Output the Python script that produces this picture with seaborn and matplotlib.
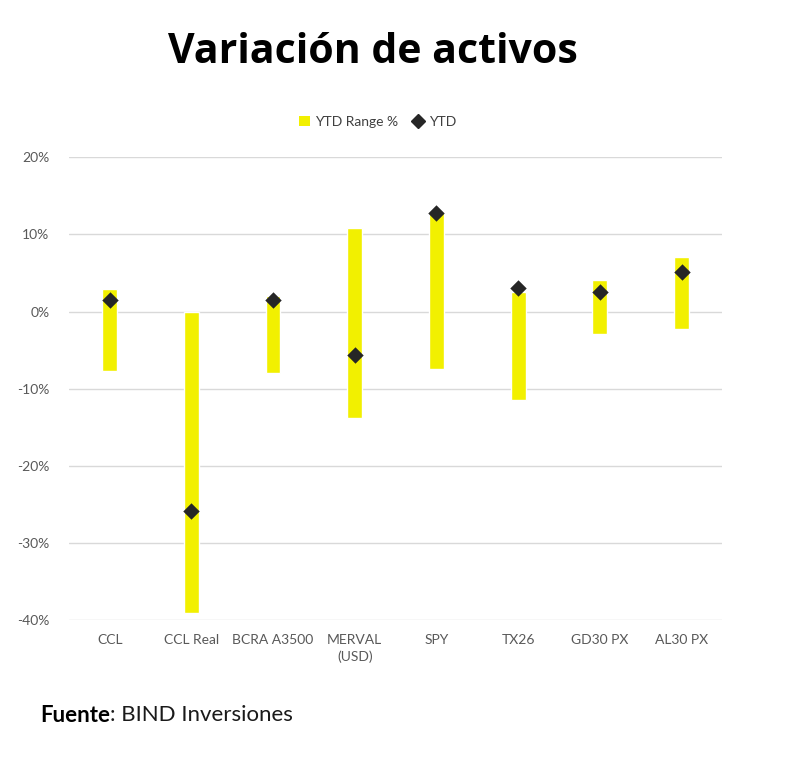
import matplotlib
matplotlib.use('Agg')
import matplotlib.pyplot as plt
import matplotlib.ticker as mticker
from matplotlib.patches import Patch
from matplotlib.lines import Line2D
import seaborn as sns
import pandas as pd

# Data (percent)
activos = ['CCL', 'CCL Real', 'BCRA A3500', 'MERVAL\n(USD)', 'SPY', 'TX26', 'GD30 PX', 'AL30 PX']
rango_min = [-7.7, -39.1, -7.9, -13.8, -7.5, -11.5, -2.9, -2.2]
rango_max = [2.9, -0.1, 2.0, 10.9, 12.9, 2.5, 4.1, 7.1]
ytd = [1.5, -25.9, 1.5, -5.6, 12.8, 3.0, 2.5, 5.1]

df = pd.DataFrame({'activo': activos, 'min': rango_min, 'max': rango_max, 'ytd': ytd})
df['rango'] = df['max'] - df['min']

sns.set_style('white')
plt.rcParams['font.family'] = ['Lato', 'DejaVu Sans']

amarillo = '#F2F000'
negro = '#262626'

fig = plt.figure(figsize=(8, 7.6), dpi=100)
ax = fig.add_axes([0.086, 0.184, 0.817, 0.609])

# Floating bars: height = range, starting at the minimum
sns.barplot(data=df, x='activo', y='rango', bottom=df['min'].values, color=amarillo,
            width=0.18, saturation=1, ax=ax, zorder=2)
sns.scatterplot(data=df, x='activo', y='ytd', marker='D', color=negro, s=70,
                edgecolor=negro, linewidth=0, ax=ax, zorder=3)

ax.set_ylim(-40, 20)
ax.set_xlim(-0.5, len(activos) - 0.5)
ax.yaxis.set_major_locator(mticker.MultipleLocator(10))
ax.yaxis.set_major_formatter(mticker.FuncFormatter(lambda v, p: f'{v:.0f}%'))
ax.grid(axis='y', color='#d9d9d9', linewidth=1, zorder=0)
ax.set_axisbelow(True)
for s in ax.spines.values():
    s.set_visible(False)
ax.set_xlabel('')
ax.set_ylabel('')
ax.tick_params(axis='both', length=0, labelsize=10, colors='#595959')
ax.tick_params(axis='y', pad=14)
ax.tick_params(axis='x', pad=10)
for lbl in ax.get_xticklabels():
    lbl.set_linespacing(1.4)

handles = [Patch(facecolor=amarillo, edgecolor='none', label='YTD Range %'),
           Line2D([], [], marker='D', color=negro, linestyle='none', markersize=7, label='YTD')]
fig.legend(handles=handles, loc='center', bbox_to_anchor=(0.472, 0.84), ncol=2,
           frameon=False, fontsize=10, handlelength=0.8, handletextpad=0.4,
           columnspacing=1.0, labelcolor='#404040')

fig.text(0.466, 0.931, 'Variación de activos', ha='center', va='center',
         fontsize=29.5, fontweight='bold', family=['Open Sans', 'DejaVu Sans'], color='black')

# Footer: bold "Fuente" then regular text
t1 = fig.text(0.05, 0.059, 'Fuente', ha='left', va='center', fontsize=16, fontweight='bold',
              color='black')
fig.canvas.draw()
bb = t1.get_window_extent()
x_next = bb.x1 / fig.bbox.width
fig.text(x_next, 0.059, ': BIND Inversiones', ha='left', va='center', fontsize=16,
         color='#1a1a1a')

plt.savefig('out.png', dpi=100, facecolor='white')
